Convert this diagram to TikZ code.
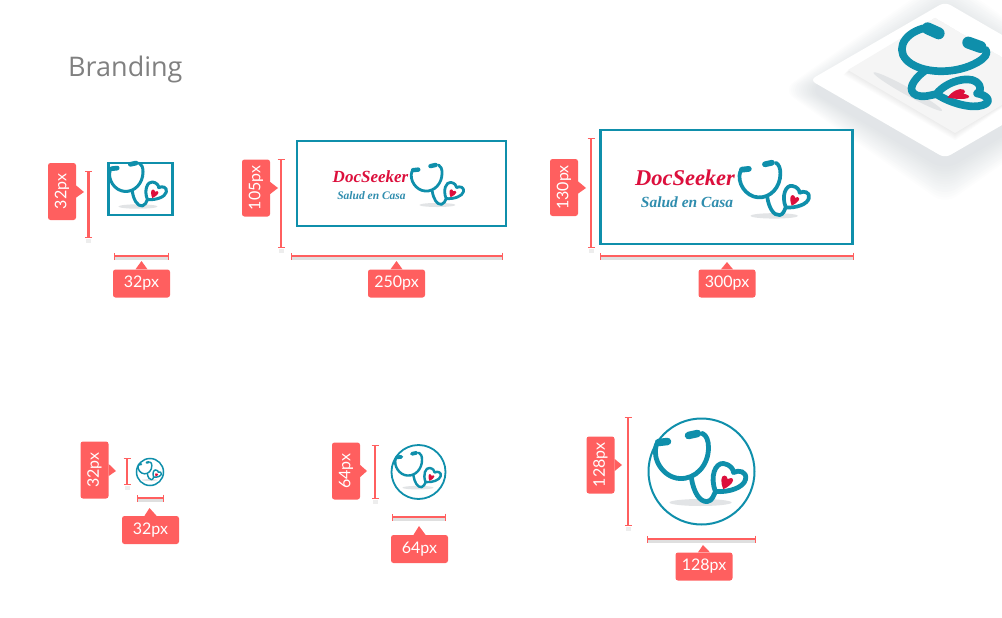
\documentclass[tikz,border=0pt]{standalone}
\usepackage{fontspec}
\setmainfont{Lato}
\newfontfamily\headfont{Open Sans}
\newfontfamily\logofont{Liberation Serif}
\usetikzlibrary{arrows.meta}

\definecolor{tagred}{HTML}{FF5F5F}
\definecolor{logoteal}{HTML}{0F8FAB}
\definecolor{saludblue}{HTML}{2F8DAE}
\definecolor{heartred}{HTML}{DC0F3C}
\definecolor{shadegray}{HTML}{E2E4E6}
\definecolor{isoshade}{HTML}{98A4AC}

\tikzset{
	tag/.style={fill=tagred, text=white, rounded corners=2.5pt, inner sep=0pt,
		minimum width=57pt, minimum height=28pt, font=\fontsize{16}{16}\selectfont},
	tagv/.style={tag, rotate=90},
	pointer/.style={fill=tagred},
	dimline/.style={draw=tagred, line width=2.6pt, {Bar[width=7pt,line width=.9pt]}-{Bar[width=7pt,line width=.9pt]}},
	dimshade/.style={draw=black!18, line width=3pt, opacity=.7},
	dimdrop/.style={fill=black!20, opacity=.35},
	frame/.style={draw=logoteal, line width=2.2pt, fill=white, inner sep=0pt},
	ring/.style={draw=logoteal, circle, fill=white, inner sep=0pt},
	docseeker/.style={text=heartred, inner sep=0pt},
	salud/.style={text=saludblue, inner sep=0pt},
	pics/stetho/.style={code={
		\fill[shadegray] (-1,31) ellipse (31 and 3.5);
		\draw[logoteal, line width=4.8pt*#1, line cap=round, line join=round]
			(-45,-27) .. controls (-50,-12) and (-38,6) .. (-22,7)
			.. controls (-6,8) and (7,-6) .. (7,-24)
			.. controls (7,-31) and (5,-36) .. (1,-38);
		\draw[logoteal, line width=4.8pt*#1, line cap=round, line join=round]
			(-10,7) .. controls (-8,20) and (-2,31) .. (6,30)
			.. controls (11,29) and (12,24) .. (14,20)
			.. controls (8,5) and (14,-9) .. (22,-8)
			.. controls (29,-7) and (32,-2) .. (32,1)
			.. controls (37,-2) and (46,0) .. (44,8)
			.. controls (42,16) and (28,21) .. (14,20);
		\draw[logoteal, line width=7.5pt*#1, line cap=round] (-43,-29) -- (-34,-30);
		\draw[logoteal, line width=7.5pt*#1, line cap=round] (-13,-36) -- (-4,-38);
		\fill[heartred] (21.7,17.7) .. controls (19,11) and (19,4) .. (23,4)
			.. controls (25,4) and (26,6) .. (26,7.5)
			.. controls (28,6) and (32,6) .. (31.5,9)
			.. controls (31,12) and (26,16) .. (21.7,17.7) -- cycle;
	}},
}

\begin{document}
\begin{tikzpicture}[x=1pt,y=-1pt]
	\useasboundingbox (0,0) rectangle (1002,618);

	% isometric corner
	\begin{scope}
		\clip (0,0) rectangle (1002,618);
		\foreach \i in {1,...,14}
			\fill[isoshade, opacity=.022, rounded corners=14pt]
				({810-\i*2},90) -- (945,{12-\i*2.6}) -- ({1080+\i*2},90) -- (945,{168+\i*2.6}) -- cycle;
		\fill[white, rounded corners=6pt] (810,80) -- (945,2) -- (1080,80) -- (945,158) -- cycle;
		\foreach \i in {1,...,6}
			\fill[gray, opacity=.02]
				({848-\i*.8},{70+\i*.8}) -- (935,18) -- (1042,81) -- (955,{133+\i*1.2}) -- cycle;
		\fill[black!4] (848,70) -- (935,18) -- (1042,81) -- (955,133) -- cycle;
		\pic[cm={1.1,-.62,1.1,.62,(0,0)}] at (943,73) {stetho=1.6};
	\end{scope}

	\node (title) at (68,77) [anchor=base west, inner sep=0pt, text=black!50,
		font=\headfont\fontsize{27}{27}\selectfont] {Branding};

	% top row, logo 32
	\node (frameA) at (140.5,189) [frame, minimum width=64pt, minimum height=52pt] {};
	\pic[scale=.63] at (138.6,187) {stetho=.63};
	\node (tagA) at (62,191.5) [tagv] {32px};
	\coordinate (tipA) at (84,192);
	\fill[pointer] ([yshift=6pt]tagA.south) -- (tipA) -- ([yshift=-6pt]tagA.south) -- cycle;
	\coordinate (dimAa) at (88.7,171);
	\coordinate (dimAb) at (88.7,238);
	\fill[dimdrop] ([xshift=-2.5pt,yshift=-1pt]dimAb) rectangle ([xshift=2.5pt,yshift=-5pt]dimAb);
	\draw[dimline] (dimAa) -- (dimAb);
	\node (tagB) at (141.5,283.5) [tag] {32px};
	\coordinate (tipB) at (141.5,261);
	\fill[pointer] ([xshift=-6pt]tagB.north) -- (tipB) -- ([xshift=6pt]tagB.north) -- cycle;
	\coordinate (dimBa) at (114,256);
	\coordinate (dimBb) at (169,256);
	\draw[dimshade] ([yshift=-2.5pt]dimBa) -- ([yshift=-2.5pt]dimBb);
	\draw[dimline] (dimBa) -- (dimBb);

	% top row, logo 250
	\node (frameC) at (401.5,183.5) [frame, minimum width=209pt, minimum height=85pt] {};
	\node (nameC) at (370.5,177) [docseeker, font=\logofont\bfseries\itshape\fontsize{17}{17}\selectfont] {DocSeeker};
	\node (subC) at (371.5,196) [salud, font=\logofont\bfseries\itshape\fontsize{11.5}{12}\selectfont] {Salud en Casa};
	\pic[scale=.58] at (438,187) {stetho=.58};
	\node (tagC) at (256,188) [tagv] {105px};
	\coordinate (tipC) at (278,188);
	\fill[pointer] ([yshift=6pt]tagC.south) -- (tipC) -- ([yshift=-6pt]tagC.south) -- cycle;
	\coordinate (dimCa) at (281,159);
	\coordinate (dimCb) at (281,248);
	\fill[dimdrop] ([xshift=-2.5pt,yshift=-1pt]dimCb) rectangle ([xshift=2.5pt,yshift=-5pt]dimCb);
	\draw[dimline] (dimCa) -- (dimCb);
	\node (tagD) at (396.5,283.5) [tag] {250px};
	\coordinate (tipD) at (396.5,261);
	\fill[pointer] ([xshift=-6pt]tagD.north) -- (tipD) -- ([xshift=6pt]tagD.north) -- cycle;
	\coordinate (dimDa) at (291,256);
	\coordinate (dimDb) at (503,256);
	\draw[dimshade] ([yshift=-2.5pt]dimDa) -- ([yshift=-2.5pt]dimDb);
	\draw[dimline] (dimDa) -- (dimDb);

	% top row, logo 300
	\node (frameE) at (726.5,187) [frame, minimum width=252pt, minimum height=114pt] {};
	\node (nameE) at (685,178) [docseeker, font=\logofont\bfseries\itshape\fontsize{22.5}{22.5}\selectfont] {DocSeeker};
	\node (subE) at (687,202) [salud, font=\logofont\bfseries\itshape\fontsize{15.5}{16}\selectfont] {Salud en Casa};
	\pic[scale=.77] at (775,192) {stetho=.77};
	\node (tagE) at (564,187.5) [tagv] {130px};
	\coordinate (tipE) at (586,188);
	\fill[pointer] ([yshift=6pt]tagE.south) -- (tipE) -- ([yshift=-6pt]tagE.south) -- cycle;
	\coordinate (dimEa) at (591,138);
	\coordinate (dimEb) at (591,248);
	\fill[dimdrop] ([xshift=-2.5pt,yshift=-1pt]dimEb) rectangle ([xshift=2.5pt,yshift=-5pt]dimEb);
	\draw[dimline] (dimEa) -- (dimEb);
	\node (tagF) at (727,283.5) [tag] {300px};
	\coordinate (tipF) at (727,262);
	\fill[pointer] ([xshift=-6pt]tagF.north) -- (tipF) -- ([xshift=6pt]tagF.north) -- cycle;
	\coordinate (dimFa) at (600,256);
	\coordinate (dimFb) at (854,256);
	\draw[dimshade] ([yshift=-2.5pt]dimFa) -- ([yshift=-2.5pt]dimFb);
	\draw[dimline] (dimFa) -- (dimFb);

	% bottom row, icon 32
	\node (ringG) at (150,472) [ring, line width=1.5pt, minimum size=27pt] {};
	\pic[scale=.26] at (150,472) {stetho=.3};
	\node (tagG) at (94.5,470) [tagv] {32px};
	\coordinate (tipG) at (116,471);
	\fill[pointer] ([yshift=6pt]tagG.south) -- (tipG) -- ([yshift=-6pt]tagG.south) -- cycle;
	\coordinate (dimGa) at (127,458);
	\coordinate (dimGb) at (127,485);
	\fill[dimdrop] ([xshift=-2.5pt,yshift=-1pt]dimGb) rectangle ([xshift=2.5pt,yshift=-5pt]dimGb);
	\draw[dimline] (dimGa) -- (dimGb);
	\node (tagH) at (150.5,530) [tag] {32px};
	\coordinate (tipH) at (149.5,508);
	\fill[pointer] ([xshift=-6pt]tagH.north) -- (tipH) -- ([xshift=6pt]tagH.north) -- cycle;
	\coordinate (dimHa) at (137,498);
	\coordinate (dimHb) at (164,498);
	\draw[dimshade] ([yshift=-2.5pt]dimHa) -- ([yshift=-2.5pt]dimHb);
	\draw[dimline] (dimHa) -- (dimHb);

	% bottom row, icon 64
	\node (ringI) at (418.5,472) [ring, line width=1.8pt, minimum size=54pt] {};
	\pic[scale=.505] at (418.5,472) {stetho=.505};
	\node (tagI) at (346,471) [tagv] {64px};
	\coordinate (tipI) at (367,471);
	\fill[pointer] ([yshift=6pt]tagI.south) -- (tipI) -- ([yshift=-6pt]tagI.south) -- cycle;
	\coordinate (dimIa) at (375,445);
	\coordinate (dimIb) at (375,499);
	\fill[dimdrop] ([xshift=-2.5pt,yshift=-1pt]dimIb) rectangle ([xshift=2.5pt,yshift=-5pt]dimIb);
	\draw[dimline] (dimIa) -- (dimIb);
	\node (tagJ) at (419.5,549) [tag] {64px};
	\coordinate (tipJ) at (419,526);
	\fill[pointer] ([xshift=-6pt]tagJ.north) -- (tipJ) -- ([xshift=6pt]tagJ.north) -- cycle;
	\coordinate (dimJa) at (392,517);
	\coordinate (dimJb) at (446,517);
	\draw[dimshade] ([yshift=-2.5pt]dimJa) -- ([yshift=-2.5pt]dimJb);
	\draw[dimline] (dimJa) -- (dimJb);

	% bottom row, icon 128
	\node (ringK) at (701.5,471.5) [ring, line width=2pt, minimum size=106pt] {};
	\pic at (701.5,471.5) {stetho=1};
	\node (tagK) at (600.5,465) [tagv] {128px};
	\coordinate (tipK) at (622,465);
	\fill[pointer] ([yshift=6pt]tagK.south) -- (tipK) -- ([yshift=-6pt]tagK.south) -- cycle;
	\coordinate (dimKa) at (628,417);
	\coordinate (dimKb) at (628,526);
	\fill[dimdrop] ([xshift=-2.5pt,yshift=-1pt]dimKb) rectangle ([xshift=2.5pt,yshift=-5pt]dimKb);
	\draw[dimline] (dimKa) -- (dimKb);
	\node (tagL) at (704,566.5) [tag] {128px};
	\coordinate (tipL) at (703,545);
	\fill[pointer] ([xshift=-6pt]tagL.north) -- (tipL) -- ([xshift=6pt]tagL.north) -- cycle;
	\coordinate (dimLa) at (647,539);
	\coordinate (dimLb) at (756,539);
	\draw[dimshade] ([yshift=-2.5pt]dimLa) -- ([yshift=-2.5pt]dimLb);
	\draw[dimline] (dimLa) -- (dimLb);
\end{tikzpicture}
\end{document}
